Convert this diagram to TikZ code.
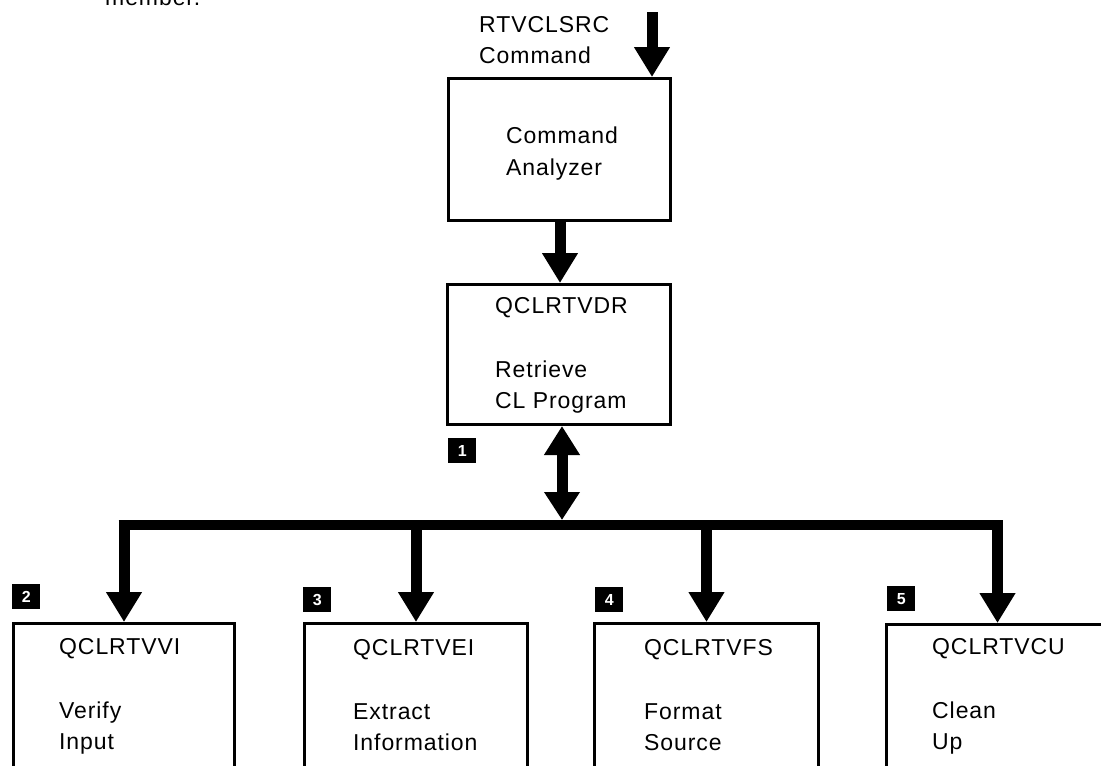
\documentclass[tikz,border=0pt]{standalone}
\usepackage{fontspec}
\setmainfont{Liberation Sans}[LetterSpace=4]
\usetikzlibrary{arrows.meta}
\begin{document}
\begin{tikzpicture}[x=1pt,y=-1pt,
  box/.style={draw, line width=3pt, inner sep=0pt, anchor=north west, minimum height=#1},
  box/.default=142pt,
  txt/.style={anchor=base west, inner sep=0pt, font=\fontsize{23}{27}\selectfont},
  num/.style={fill=black, text=white, font=\fontsize{16}{16}\selectfont\bfseries, minimum width=28pt, minimum height=25pt, inner sep=0pt, anchor=north west},
  fat/.style={line width=11pt, -{Triangle[width=34pt,length=30pt]}},
  fatboth/.style={line width=11pt, {Triangle[width=34pt,length=29pt]}-{Triangle[width=34pt,length=28pt]}},
  busline/.style={line width=10pt}
]
\clip (0,0) rectangle (1101,766);
\fill[white] (0,0) rectangle (1101,766);

% boxes
\node[box, minimum width=222pt] (ana) at (447,77) {};
\node[box=140pt, minimum width=223pt] (dr) at (446,283) {};
\node[box=200pt, minimum width=221pt] (vvi) at (12,622) {};
\node[box=200pt, minimum width=223pt] (vei) at (303,622) {};
\node[box=200pt, minimum width=224pt] (vfs) at (593,622) {};
\node[box=200pt, minimum width=222pt] (vcu) at (885,623) {};

% texts
\node[txt] (tmember) at (105,5) {member.};
\node[txt] (tin1) at (479,32) {RTVCLSRC};
\node[txt] (tin2) at (479,63) {Command};
\node[txt] (ana1) at (506,143) {Command};
\node[txt] (ana2) at (506,175) {Analyzer};
\node[txt] (dr1) at (495,313) {QCLRTVDR};
\node[txt] (dr2) at (495,377) {Retrieve};
\node[txt] (dr3) at (495,408) {CL Program};
\node[txt] (vvi1) at (59,654) {QCLRTVVI};
\node[txt] (vvi2) at (59,718) {Verify};
\node[txt] (vvi3) at (59,749) {Input};
\node[txt] (vei1) at (353,655) {QCLRTVEI};
\node[txt] (vei2) at (353,719) {Extract};
\node[txt] (vei3) at (353,750) {Information};
\node[txt] (vfs1) at (644,655) {QCLRTVFS};
\node[txt] (vfs2) at (644,719) {Format};
\node[txt] (vfs3) at (644,750) {Source};
\node[txt] (vcu1) at (932,654) {QCLRTVCU};
\node[txt] (vcu2) at (932,718) {Clean};
\node[txt] (vcu3) at (932,749) {Up};

% number tags
\node[num] (n1) at (448,438) {1};
\node[num] (n2) at (12,584) {2};
\node[num] (n3) at (303,587) {3};
\node[num] (n4) at (595,587) {4};
\node[num] (n5) at (887,586) {5};

% connectors
\coordinate (cin) at (652,12);
\coordinate (mida) at (560,0);
\coordinate (mid) at (562,0);
\coordinate (bustop) at (0,520);
\coordinate (bus) at (0,525);
\draw[fat] (cin) -- (cin |- ana.north);
\draw[fat] (mida |- ana.south) -- (mida |- dr.north);
\draw[fatboth] (mid |- dr.south) -- (mid |- bustop);
\coordinate (busL) at ([xshift=-5.5pt]vvi.north |- bus);
\coordinate (busR) at ([xshift=5.5pt]vcu.north |- bus);
\draw[busline] (busL) -- (busR);
\draw[fat] (vvi.north |- bustop) -- (vvi.north);
\draw[fat] (vei.north |- bustop) -- (vei.north);
\draw[fat] (vfs.north |- bustop) -- (vfs.north);
\draw[fat] (vcu.north |- bustop) -- (vcu.north);
\end{tikzpicture}
\end{document}
